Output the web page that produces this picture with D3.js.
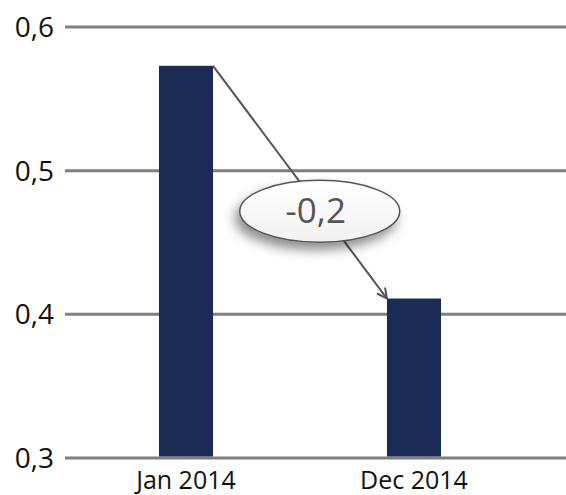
<!DOCTYPE html>
<html>
<head>
<meta charset="utf-8">
<script src="https://cdn.jsdelivr.net/npm/d3@7"></script>
<style>
  body { margin: 0; background: #fff; }
  svg { display: block; font-family: "Segoe UI", "Open Sans", "Noto Sans", sans-serif; }
</style>
</head>
<body>
<svg id="chart" width="566" height="495"></svg>
<script>
const categories = ["Jan 2014", "Dec 2014"];
const values = [0.573, 0.411];
const yTicks = [0.3, 0.4, 0.5, 0.6];

(function barChart() {
  const svg = d3.select("#chart");
  const locale = d3.formatLocale({ decimal: ",", thousands: ".", grouping: [3], currency: ["", ""], minus: "-" });
  const fmt = locale.format(".1f");

  const x = d3.scaleBand()
    .domain(categories)
    .range([72, 528])
    .paddingInner(0.763)
    .paddingOuter(0.3815);

  const y = d3.scaleLinear()
    .domain([0.3, 0.6])
    .range([458, 27]);

  // gridlines
  svg.append("g")
    .selectAll("line")
    .data(yTicks)
    .join("line")
    .attr("x1", 65)
    .attr("x2", 566)
    .attr("y1", d => y(d))
    .attr("y2", d => y(d))
    .attr("stroke", "#808080")
    .attr("stroke-width", 3);

  // y labels
  svg.append("g")
    .selectAll("text")
    .data(yTicks)
    .join("text")
    .attr("x", 54)
    .attr("y", d => y(d) + 10)
    .attr("text-anchor", "end")
    .style("font-size", "28px")
    .style("fill", "#111")
    .text(d => fmt(d));

  // bars
  svg.append("g")
    .selectAll("rect")
    .data(values)
    .join("rect")
    .attr("x", (d, i) => x(categories[i]))
    .attr("width", x.bandwidth())
    .attr("y", d => y(d))
    .attr("height", d => y(0.3) - y(d) - 1.5)
    .attr("fill", "#1a2c54");

  // x labels
  svg.append("g")
    .selectAll("text")
    .data(categories)
    .join("text")
    .attr("x", d => x(d) + x.bandwidth() / 2)
    .attr("y", 489)
    .attr("text-anchor", "middle")
    .style("font-size", "25px")
    .style("fill", "#111")
    .text(d => d);

  // arrow between bars
  const defs = svg.append("defs");
  defs.append("marker")
    .attr("id", "arrow")
    .attr("viewBox", "0 0 12 12")
    .attr("refX", 11)
    .attr("refY", 6)
    .attr("markerWidth", 12)
    .attr("markerHeight", 12)
    .attr("markerUnits", "userSpaceOnUse")
    .attr("orient", "auto")
    .append("path")
    .attr("d", "M1,1 L11,6 L1,11")
    .attr("fill", "none")
    .attr("stroke", "#555")
    .attr("stroke-width", 2);

  const filter = defs.append("filter")
    .attr("id", "shadow")
    .attr("x", "-30%").attr("y", "-40%")
    .attr("width", "160%").attr("height", "200%");
  filter.append("feDropShadow")
    .attr("dx", -4)
    .attr("dy", 7)
    .attr("stdDeviation", 6)
    .attr("flood-color", "#000")
    .attr("flood-opacity", 0.45);

  const x1 = x(categories[0]) + x.bandwidth();
  const y1 = y(values[0]);
  const x2 = x(categories[1]);
  const y2 = y(values[1]);

  svg.append("line")
    .attr("x1", x1).attr("y1", y1)
    .attr("x2", x2).attr("y2", y2)
    .attr("stroke", "#555")
    .attr("stroke-width", 2)
    .attr("marker-end", "url(#arrow)");

  const t = 0.625;
  const cx = x1 + (x2 - x1) * t;
  const cy = y1 + (y2 - y1) * t;

  const grad = defs.append("linearGradient")
    .attr("id", "ellfill")
    .attr("x1", 0).attr("y1", 0).attr("x2", 0).attr("y2", 1);
  grad.append("stop").attr("offset", "0%").attr("stop-color", "#ffffff");
  grad.append("stop").attr("offset", "100%").attr("stop-color", "#f2f2f2");

  svg.append("ellipse")
    .attr("cx", cx - 2)
    .attr("cy", cy)
    .attr("rx", 80)
    .attr("ry", 31)
    .attr("fill", "url(#ellfill)")
    .attr("stroke", "#555")
    .attr("stroke-width", 1.5)
    .attr("filter", "url(#shadow)");

  svg.append("text")
    .attr("x", cx - 6)
    .attr("y", cy + 12)
    .attr("text-anchor", "middle")
    .style("font-size", "35px")
    .style("fill", "#555")
    .text(fmt(values[1] - values[0]));
})();
</script>
</body>
</html>
